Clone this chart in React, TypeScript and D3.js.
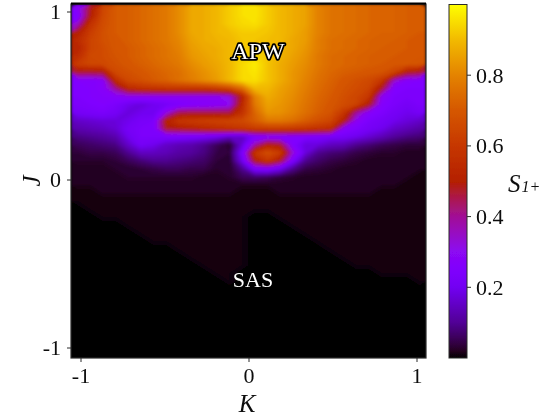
import * as d3 from "d3";

const W = 552;
const H = 418;

const kTicks = [-1, 0, 1];
const jTicks = [-1, 0, 1];
const barTicks = [0.2, 0.4, 0.6, 0.8];

// colour map stops
const cmapStops = [0, 0.02, 0.05, 0.1, 0.2, 0.25, 0.3, 0.4, 0.45, 0.5, 0.6, 0.7, 0.8, 0.9, 1];
const cmapColors = [
  "#000000", "#240020", "#380050", "#510096", "#7200f2", "#8004ff", "#8c07f2", "#a11096",
  "#ab1750", "#b42000", "#c63700", "#d55700", "#e48300", "#f2ba00", "#ffff00",
];

// S1+ in percent, rows run from the top of the plot down
const gridCols = 28;
const gridRows = [
  [28, 48, 65, 71, 72, 74, 76, 78, 82, 87, 88, 90, 93, 96, 97, 93, 90, 88, 86, 80, 77, 76, 75, 74, 73, 73, 72, 71],
  [25, 50, 66, 71, 72, 74, 76, 78, 82, 87, 88, 90, 93, 96, 97, 93, 90, 88, 86, 80, 77, 76, 75, 74, 73, 73, 72, 71],
  [35, 58, 67, 71, 72, 74, 76, 78, 82, 87, 88, 90, 93, 95, 96, 93, 90, 88, 86, 80, 77, 76, 75, 74, 73, 73, 72, 71],
  [50, 62, 68, 71, 72, 74, 76, 78, 82, 87, 88, 90, 91, 93, 93, 92, 90, 88, 85, 80, 77, 76, 75, 74, 73, 73, 72, 71],
  [55, 64, 68, 70, 72, 74, 76, 78, 81, 86, 88, 89, 90, 92, 92, 91, 90, 87, 85, 79, 76, 75, 74, 73, 72, 72, 71, 70],
  [52, 64, 67, 70, 71, 73, 75, 77, 80, 85, 87, 88, 90, 92, 93, 91, 89, 87, 84, 79, 76, 75, 74, 73, 72, 71, 71, 70],
  [56, 66, 67, 69, 71, 73, 75, 77, 79, 84, 86, 88, 90, 94, 95, 92, 89, 86, 83, 78, 75, 74, 73, 72, 71, 71, 70, 70],
  [62, 65, 66, 68, 70, 72, 74, 76, 78, 82, 85, 87, 90, 95, 98, 92, 88, 85, 82, 78, 75, 74, 73, 72, 71, 70, 70, 69],
  [47, 47, 48, 66, 68, 70, 72, 74, 76, 80, 83, 86, 90, 95, 97, 92, 88, 84, 81, 77, 74, 72, 71, 70, 69, 64, 50, 47],
  [26, 26, 28, 56, 66, 68, 71, 73, 76, 79, 82, 85, 90, 95, 96, 92, 88, 84, 80, 76, 73, 70, 68, 66, 60, 35, 27, 26],
  [25, 26, 28, 40, 55, 58, 59, 60, 60, 60, 60, 62, 66, 75, 90, 90, 86, 83, 79, 75, 72, 69, 67, 64, 48, 26, 25, 25],
  [25, 26, 27, 28, 30, 30, 30, 30, 30, 30, 30, 30, 32, 52, 80, 88, 85, 82, 78, 74, 71, 68, 65, 60, 30, 25, 24, 24],
  [24, 25, 26, 24, 20, 18, 20, 22, 24, 26, 27, 28, 30, 55, 78, 86, 84, 81, 77, 73, 70, 67, 64, 50, 27, 24, 22, 24],
  [22, 23, 24, 22, 18, 20, 20, 32, 45, 46, 46, 46, 46, 58, 74, 84, 83, 80, 76, 72, 69, 60, 40, 28, 25, 22, 20, 22],
  [16, 17, 18, 18, 20, 23, 24, 52, 60, 62, 63, 64, 65, 66, 72, 78, 78, 76, 72, 68, 65, 52, 30, 24, 22, 20, 18, 16],
  [13, 14, 15, 17, 22, 24, 25, 48, 50, 52, 54, 56, 58, 60, 62, 62, 62, 61, 60, 58, 56, 28, 25, 22, 20, 16, 14, 12],
  [9, 10, 11, 13, 20, 24, 24, 24, 24, 23, 22, 20, 15, 15, 24, 26, 26, 26, 25, 24, 22, 22, 20, 17, 14, 11, 9, 8],
  [6, 7, 8, 9, 16, 22, 20, 16, 14, 13, 10, 6, 3, 18, 38, 52, 48, 26, 18, 18, 15, 14, 10, 8, 6, 5, 4, 4],
  [4, 5, 5, 6, 10, 15, 15, 14, 12, 11, 9, 5, 4, 24, 60, 68, 62, 34, 18, 10, 8, 7, 5, 4, 3, 3, 2, 2],
  [3, 3, 3, 4, 6, 8, 10, 10, 9, 8, 7, 4, 3, 20, 50, 60, 48, 24, 10, 7, 5, 4, 3, 2, 2, 2, 2, 2],
  [2, 2, 2, 3, 3, 4, 5, 6, 6, 5, 5, 3, 3, 10, 24, 26, 20, 10, 5, 4, 3, 2, 2, 2, 2, 2, 2, 2],
  [2, 2, 2, 2, 3, 3, 3, 3, 3, 3, 2, 2, 3, 6, 7, 6, 4, 3, 2, 2, 2, 2, 2, 2, 2, 2, 2, 1],
  [2, 2, 2, 2, 2, 2, 2, 2, 2, 2, 2, 2, 2, 2, 2, 2, 2, 2, 2, 2, 2, 2, 2, 2, 2, 2, 1, 1],
  [1, 1, 2, 2, 2, 2, 2, 2, 2, 2, 2, 2, 2, 1, 1, 1, 2, 2, 2, 2, 2, 2, 2, 2, 1, 1, 1, 1],
  [1, 1, 1, 1, 1, 1, 1, 1, 1, 1, 1, 1, 1, 1, 1, 1, 1, 1, 1, 1, 1, 1, 1, 1, 1, 1, 1, 1],
  [0, 1, 1, 1, 1, 1, 1, 1, 1, 1, 1, 1, 1, 1, 1, 1, 1, 1, 1, 1, 1, 1, 1, 1, 1, 1, 1, 1],
  [0, 0, 1, 1, 1, 1, 1, 1, 1, 1, 1, 1, 1, 1, 0, 0, 1, 1, 1, 1, 1, 1, 1, 1, 1, 1, 1, 1],
  [0, 0, 0, 0, 1, 1, 1, 1, 1, 1, 1, 1, 1, 1, 0, 0, 0, 1, 1, 1, 1, 1, 1, 1, 1, 1, 1, 1],
  [0, 0, 0, 0, 0, 1, 1, 1, 1, 1, 1, 1, 1, 1, 0, 0, 0, 0, 1, 1, 1, 1, 1, 1, 1, 1, 1, 1],
  [0, 0, 0, 0, 0, 0, 1, 1, 1, 1, 1, 1, 1, 1, 0, 0, 0, 0, 0, 1, 1, 1, 1, 1, 1, 1, 1, 1],
  [0, 0, 0, 0, 0, 0, 0, 0, 1, 1, 1, 1, 1, 1, 0, 0, 0, 0, 0, 0, 1, 1, 1, 1, 1, 1, 1, 1],
  [0, 0, 0, 0, 0, 0, 0, 0, 0, 1, 1, 1, 1, 1, 0, 0, 0, 0, 0, 0, 0, 1, 1, 1, 1, 1, 1, 1],
  [0, 0, 0, 0, 0, 0, 0, 0, 0, 0, 1, 1, 1, 1, 0, 0, 0, 0, 0, 0, 0, 0, 1, 1, 1, 1, 1, 1],
  [0, 0, 0, 0, 0, 0, 0, 0, 0, 0, 0, 1, 1, 0, 0, 0, 0, 0, 0, 0, 0, 0, 0, 0, 1, 1, 1, 1],
  [0, 0, 0, 0, 0, 0, 0, 0, 0, 0, 0, 0, 1, 0, 0, 0, 0, 0, 0, 0, 0, 0, 0, 0, 0, 0, 0, 1],
];
const blackRowsBelow = 9; // the rest of the plot is plain black

const thresholds = [0.5, 1, 1.5, 2, 2.5, ...d3.range(3, 100)];

const plot = { left: 71, right: 426, top: 4, bottom: 358 };
const bar = { left: 449, right: 467, top: 4.5, bottom: 358 };

const xK = d3.scaleLinear().domain([-1, 1]).range([81, 417]);
const yJ = d3.scaleLinear().domain([-1, 1]).range([348, 12]);
const yBar = d3.scaleLinear().domain([0, 1]).range([bar.bottom, bar.top]);
const cmap = d3.scaleLinear<string>().domain(cmapStops).range(cmapColors).interpolate(d3.interpolateRgb);

const serif = "'Liberation Serif', 'Times New Roman', serif";
const frame = "#2b2b2b";

const App = () => {
  const rows = [...gridRows, ...d3.range(blackRowsBelow).map(() => d3.range(gridCols).map(() => 0))];
  const nRows = rows.length;

  const xGrid = d3.scaleLinear().domain([0, gridCols]).range([plot.left, plot.right]);
  const yGrid = d3.scaleLinear().domain([0, nRows]).range([plot.top, plot.bottom]);
  const project = d3.geoTransform({
    point(x, y) {
      this.stream.point(xGrid(x), yGrid(y));
    },
  });
  const path = d3.geoPath(project);
  const bands = d3.contours().size([gridCols, nRows]).thresholds(thresholds)(rows.flat());

  const gradStops = d3.range(0, 1.001, 0.02);

  return (
    <svg
      width={W}
      height={H}
      viewBox={`0 0 ${W} ${H}`}
      style={{ position: "absolute", left: 0, top: 0, background: "#fff" }}
      fontFamily={serif}
    >
      <defs>
        <filter id="soft" x="-5%" y="-5%" width="110%" height="110%">
          <feGaussianBlur stdDeviation="1.8" edgeMode="duplicate" />
        </filter>
        <filter id="softText" x="-20%" y="-20%" width="140%" height="140%">
          <feGaussianBlur stdDeviation="0.35" />
        </filter>
        <clipPath id="plotClip">
          <rect x={plot.left} y={plot.top} width={plot.right - plot.left} height={plot.bottom - plot.top} />
        </clipPath>
        <linearGradient id="barGrad" x1="0" y1="1" x2="0" y2="0">
          {gradStops.map((t) => (
            <stop key={t} offset={t} stopColor={cmap(t)} />
          ))}
        </linearGradient>
      </defs>

      {/* heat map */}
      <g clipPath="url(#plotClip)">
        <rect x={plot.left} y={plot.top} width={plot.right - plot.left} height={plot.bottom - plot.top} fill="#000" />
        <g filter="url(#soft)">
          <rect x={plot.left} y={plot.top} width={plot.right - plot.left} height={plot.bottom - plot.top} fill="#000" />
          {bands.map((b) => (
            <path key={b.value} d={path(b) ?? ""} fill={cmap(b.value / 100)} />
          ))}
        </g>
      </g>
      <rect
        x={plot.left}
        y={plot.top}
        width={plot.right - plot.left}
        height={plot.bottom - plot.top}
        fill="none"
        stroke={frame}
        strokeWidth={1.2}
      />
      <line x1={plot.left} x2={plot.right} y1={plot.top - 0.5} y2={plot.top - 0.5} stroke="#000" strokeWidth={2} />

      <g filter="url(#softText)">
        <text
          x={258}
          y={59}
          textAnchor="middle"
          fontSize={24}
          fill="#fff"
          stroke="#000"
          strokeWidth={3.5}
          paintOrder="stroke"
          strokeLinejoin="round"
        >
          APW
        </text>
        <text x={253} y={287} textAnchor="middle" fontSize={22} fill="#fff">
          SAS
        </text>

        {/* axes */}
        {kTicks.map((t) => (
          <g key={t}>
            <line x1={xK(t)} x2={xK(t)} y1={plot.bottom} y2={plot.bottom + 4} stroke={frame} />
            <text x={xK(t)} y={383} textAnchor="middle" fontSize={22} fill="#111">
              {t}
            </text>
          </g>
        ))}
        {jTicks.map((t) => (
          <g key={t}>
            <line x1={plot.left - 4} x2={plot.left} y1={yJ(t)} y2={yJ(t)} stroke={frame} />
            <text x={61} y={yJ(t) + 7} textAnchor="end" fontSize={22} fill="#111">
              {t}
            </text>
          </g>
        ))}
        <text x={247} y={412} textAnchor="middle" fontSize={25} fontStyle="italic" fill="#111">
          K
        </text>
        <text
          transform={`translate(40,181) rotate(-90)`}
          textAnchor="middle"
          fontSize={25}
          fontStyle="italic"
          fill="#111"
        >
          J
        </text>

        {/* colour bar */}
        <rect
          x={bar.left}
          y={bar.top}
          width={bar.right - bar.left}
          height={bar.bottom - bar.top}
          fill="url(#barGrad)"
          stroke={frame}
          strokeWidth={1}
        />
        {barTicks.map((t) => (
          <g key={t}>
            <line x1={bar.right} x2={bar.right + 4} y1={yBar(t)} y2={yBar(t)} stroke={frame} />
            <text x={476} y={yBar(t) + 7.5} fontSize={22} fill="#111">
              {t.toFixed(1)}
            </text>
          </g>
        ))}
        <text x={508} y={192} fontSize={25} fontStyle="italic" fill="#111">
          S
          <tspan fontSize={16} dx={1}>
            1+
          </tspan>
        </text>
      </g>
    </svg>
  );
};

export default App;
